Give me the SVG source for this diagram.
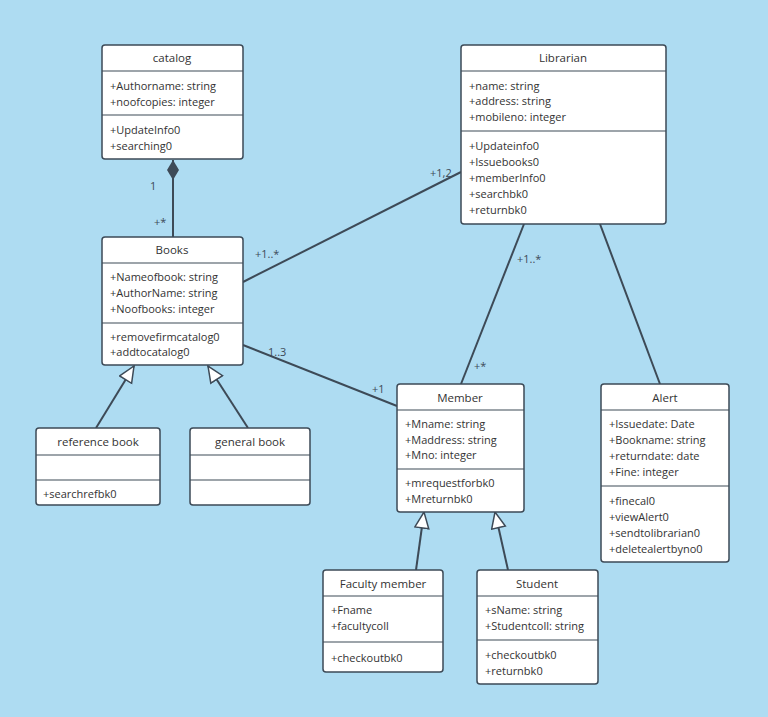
<svg xmlns="http://www.w3.org/2000/svg" width="768" height="717" viewBox="0 0 768 717">
<style>
.b{fill:#fff;stroke:#3d4a57;stroke-width:1.5}
.d{stroke:#3d4a57;stroke-width:1.2}
.c{stroke:#3d4a57;stroke-width:2;fill:none}
text{font-family:"Open Sans","DejaVu Sans",sans-serif;font-size:11px;fill:#333}
.h{text-anchor:middle;font-size:11.5px}
.l{font-size:11px;fill:#3d4a57}
</style>
<defs>
<marker id="tri" markerWidth="20" markerHeight="20" refX="17" refY="8" orient="auto" markerUnits="userSpaceOnUse"><path d="M1,1 L17,8 L1,15 Z" fill="#fff" stroke="#3d4a57" stroke-width="1.5"/></marker>
<marker id="dia" markerWidth="26" markerHeight="14" refX="1" refY="7" orient="auto" markerUnits="userSpaceOnUse"><path d="M1,7 L11,1 L21,7 L11,13 Z" fill="#3d4a57"/></marker>
</defs>
<rect width="768" height="717" fill="#aedcf2"/>
<g id="connectors">
<line class="c" x1="173" y1="160" x2="173" y2="237" marker-start="url(#dia)"/>
<line class="c" x1="243" y1="282" x2="461" y2="172"/>
<line class="c" x1="243" y1="345" x2="397" y2="406"/>
<line class="c" x1="524" y1="224" x2="461" y2="384"/>
<line class="c" x1="600" y1="224" x2="660" y2="384"/>
<line class="c" x1="96" y1="428" x2="134" y2="366" marker-end="url(#tri)"/>
<line class="c" x1="248" y1="428" x2="208" y2="366" marker-end="url(#tri)"/>
<line class="c" x1="416" y1="570" x2="424" y2="512" marker-end="url(#tri)"/>
<line class="c" x1="508" y1="570" x2="495" y2="512" marker-end="url(#tri)"/>
<text class="l" x="150" y="190">1</text>
<text class="l" x="154" y="226">+*</text>
<text class="l" x="430" y="177">+1,2</text>
<text class="l" x="255" y="258">+1..*</text>
<text class="l" x="268" y="356">1..3</text>
<text class="l" x="372" y="393">+1</text>
<text class="l" x="517" y="263">+1..*</text>
<text class="l" x="474" y="370">+*</text>
</g>
<g id="catalog">
<rect class="b" x="102" y="45" width="141" height="114" rx="3"/>
<line class="d" x1="102" y1="71" x2="243" y2="71"/><line class="d" x1="102" y1="115" x2="243" y2="115"/>
<text class="h" x="172" y="62">catalog</text>
<text x="110" y="90">+Authorname: string</text><text x="110" y="106">+noofcopies: integer</text>
<text x="110" y="134">+UpdateInfo0</text><text x="110" y="150">+searching0</text>
</g>
<g id="books">
<rect class="b" x="102" y="237" width="141" height="128" rx="3"/>
<line class="d" x1="102" y1="263" x2="243" y2="263"/><line class="d" x1="102" y1="323" x2="243" y2="323"/>
<text class="h" x="172" y="254">Books</text>
<text x="110" y="281">+Nameofbook: string</text><text x="110" y="297">+AuthorName: string</text><text x="110" y="313">+Noofbooks: integer</text>
<text x="110" y="341">+removefirmcatalog0</text><text x="110" y="356">+addtocatalog0</text>
</g>
<g id="librarian">
<rect class="b" x="461" y="45" width="205" height="179" rx="3"/>
<line class="d" x1="461" y1="71" x2="666" y2="71"/><line class="d" x1="461" y1="131" x2="666" y2="131"/>
<text class="h" x="563" y="62">Librarian</text>
<text x="469" y="90">+name: string</text><text x="469" y="105">+address: string</text><text x="469" y="121">+mobileno: integer</text>
<text x="469" y="150">+Updateinfo0</text><text x="469" y="166">+Issuebooks0</text><text x="469" y="182">+memberInfo0</text><text x="469" y="198">+searchbk0</text><text x="469" y="214">+returnbk0</text>
</g>
<g id="reference">
<rect class="b" x="36" y="428" width="124" height="77" rx="3"/>
<line class="d" x1="36" y1="455" x2="160" y2="455"/><line class="d" x1="36" y1="480" x2="160" y2="480"/>
<text class="h" x="98" y="446">reference book</text>
<text x="43" y="498">+searchrefbk0</text>
</g>
<g id="general">
<rect class="b" x="190" y="428" width="120" height="77" rx="3"/>
<line class="d" x1="190" y1="455" x2="310" y2="455"/><line class="d" x1="190" y1="480" x2="310" y2="480"/>
<text class="h" x="250" y="446">general book</text>
</g>
<g id="member">
<rect class="b" x="397" y="384" width="127" height="128" rx="3"/>
<line class="d" x1="397" y1="410" x2="524" y2="410"/><line class="d" x1="397" y1="469" x2="524" y2="469"/>
<text class="h" x="460" y="402">Member</text>
<text x="405" y="428">+Mname: string</text><text x="405" y="444">+Maddress: string</text><text x="405" y="459">+Mno: integer</text>
<text x="405" y="487">+mrequestforbk0</text><text x="405" y="503">+Mreturnbk0</text>
</g>
<g id="alert">
<rect class="b" x="601" y="384" width="128" height="178" rx="3"/>
<line class="d" x1="601" y1="410" x2="729" y2="410"/><line class="d" x1="601" y1="486" x2="729" y2="486"/>
<text class="h" x="665" y="402">Alert</text>
<text x="609" y="428">+Issuedate: Date</text><text x="609" y="444">+Bookname: string</text><text x="609" y="460">+returndate: date</text><text x="609" y="476">+Fine: integer</text>
<text x="609" y="505">+finecal0</text><text x="609" y="521">+viewAlert0</text><text x="609" y="537">+sendtolibrarian0</text><text x="609" y="553">+deletealertbyno0</text>
</g>
<g id="faculty">
<rect class="b" x="323" y="570" width="120" height="102" rx="3"/>
<line class="d" x1="323" y1="596" x2="443" y2="596"/><line class="d" x1="323" y1="642" x2="443" y2="642"/>
<text class="h" x="383" y="588">Faculty member</text>
<text x="331" y="614">+Fname</text><text x="331" y="630">+facultycoll</text>
<text x="331" y="662">+checkoutbk0</text>
</g>
<g id="student">
<rect class="b" x="477" y="570" width="121" height="114" rx="3"/>
<line class="d" x1="477" y1="596" x2="598" y2="596"/><line class="d" x1="477" y1="640" x2="598" y2="640"/>
<text class="h" x="537" y="588">Student</text>
<text x="485" y="614">+sName: string</text><text x="485" y="630">+Studentcoll: string</text>
<text x="485" y="659">+checkoutbk0</text><text x="485" y="675">+returnbk0</text>
</g>
</svg>
